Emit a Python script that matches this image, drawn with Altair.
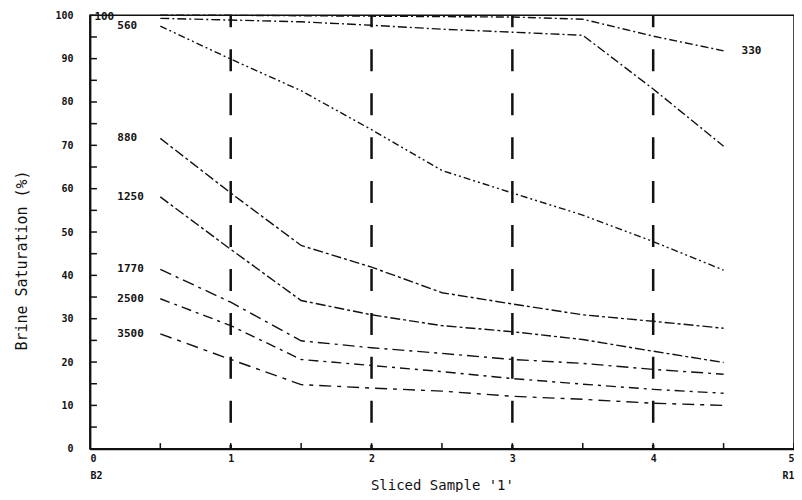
import altair as alt
import pandas as pd

# ---- data ----
x_pos = [0.5, 1.0, 1.5, 2.0, 2.5, 3.0, 3.5, 4.0, 4.5]
series_names = ["100", "330", "560", "880", "1250", "1770", "2500", "3500"]
s100 = [99.3, 98.9, 98.5, 97.7, 96.8, 96.1, 95.4, 83.0, 69.8]
s330 = [100.0, 100.0, 99.9, 99.8, 99.7, 99.6, 99.1, 95.2, 91.8]
s560 = [97.5, 89.9, 82.6, 73.6, 64.2, 59.0, 53.9, 47.8, 41.2]
s880 = [71.6, 59.0, 46.9, 41.9, 36.0, 33.4, 30.9, 29.4, 27.8]
s1250 = [58.1, 46.0, 34.2, 30.9, 28.4, 27.0, 25.2, 22.5, 19.9]
s1770 = [41.4, 33.8, 24.9, 23.3, 22.0, 20.6, 19.7, 18.3, 17.2]
s2500 = [34.6, 28.4, 20.6, 19.2, 17.8, 16.2, 14.9, 13.7, 12.8]
s3500 = [26.5, 20.6, 14.8, 14.0, 13.3, 12.1, 11.4, 10.5, 10.0]
all_series = [s100, s330, s560, s880, s1250, s1770, s2500, s3500]

divider_x = [1, 2, 3, 4]
x_tick_vals = [0.5, 1, 1.5, 2, 2.5, 3, 3.5, 4, 4.5, 5]
y_tick_vals = list(range(0, 101, 5))
x_label_vals = [0, 1, 2, 3, 4, 5]
y_label_vals = list(range(0, 101, 10))
end_left = "B2"
end_right = "R1"

# ---- tables ----
rows = []
for name, vals in zip(series_names, all_series):
    for xv, yv in zip(x_pos, vals):
        rows.append({"series": name, "x": xv, "y": yv})
df = pd.DataFrame(rows)

left_lab = pd.DataFrame(
    [{"series": n, "x": x_pos[0], "y": v[0]} for n, v in zip(series_names, all_series)
     if n not in ("100", "330")]
)
top_lab = pd.DataFrame([{"series": "100", "x": x_pos[0], "y": s100[0]}])
right_lab = pd.DataFrame([{"series": "330", "x": x_pos[-1], "y": s330[-1]}])
div_df = pd.DataFrame({"x": divider_x})
ytick_df = pd.DataFrame({"y": y_tick_vals})
xtick_df = pd.DataFrame({"x": x_tick_vals})

FONT = "DejaVu Sans Mono"
INK = "#111111"

xscale = alt.Scale(domain=[0, 5], nice=False, zero=False)
yscale = alt.Scale(domain=[0, 100], nice=False)

x_axis = alt.Axis(
    values=x_label_vals, format="d",
    labelExpr=f"datum.value == 0 ? ['0', '{end_left}'] : datum.value == 5 ? ['5', '{end_right}'] : datum.label",
    labelFont=FONT, labelFontWeight="bold", labelFontSize=10, labelColor=INK,
    labelLineHeight=17, labelPadding=5, labelFlush=True, labelOverlap=False,
    ticks=False, grid=False, domainColor=INK, domainWidth=2,
    title="Sliced Sample '1'", titleFont=FONT, titleFontSize=14,
    titleFontWeight="normal", titleColor=INK, titleY=30, titleBaseline="top",
)
y_axis = alt.Axis(
    values=y_label_vals, format="d",
    labelFont=FONT, labelFontWeight="bold", labelFontSize=10, labelColor=INK,
    labelPadding=17, ticks=False, grid=False, domainColor=INK, domainWidth=2,
    title="Brine  Saturation   (%)", titleFont=FONT, titleFontSize=15,
    titleFontWeight="normal", titleColor=INK, titleX=-68, titleY=245,
    titleAngle=270, titleAlign="center", titleBaseline="middle",
)

X = lambda f: alt.X(f, scale=xscale, axis=x_axis)
Y = lambda f: alt.Y(f, scale=yscale, axis=y_axis)

dash_range = [[9, 3, 2, 3], [8, 3, 2, 3], [7, 3, 2, 3, 2, 3], [10, 3, 3, 3],
              [10, 3, 3, 3], [12, 5, 3, 5], [10, 5, 3, 5], [12, 6, 4, 6]]

lines = alt.Chart(df).mark_line(color=INK, strokeWidth=1.4).encode(
    x=X("x:Q"),
    y=Y("y:Q"),
    strokeDash=alt.StrokeDash("series:N", scale=alt.Scale(domain=series_names, range=dash_range), legend=None),
    detail="series:N",
)

dividers = alt.Chart(div_df).mark_rule(
    color=INK, strokeWidth=2.5, strokeDash=[22, 22], strokeDashOffset=18
).encode(
    x=X("x:Q"),
    y=alt.datum(0),
    y2=alt.datum(100),
)

yticks = alt.Chart(ytick_df).mark_rule(color=INK, strokeWidth=1.5).encode(
    y=Y("y:Q"),
    x=alt.datum(0),
    x2=alt.datum(0.05),
)
xticks = alt.Chart(xtick_df).mark_rule(color=INK, strokeWidth=1.5).encode(
    x=X("x:Q"),
    y=alt.datum(0),
    y2=alt.datum(1.3),
)

lab_style = dict(font=FONT, fontWeight="bold", fontSize=11, color=INK, align="left", baseline="middle")
left_text = alt.Chart(left_lab).mark_text(dx=-43, **lab_style).encode(
    x=X("x:Q"), y=Y("y:Q"), text="series:N")
top_text = alt.Chart(top_lab).mark_text(dx=-66, dy=-1, **lab_style).encode(
    x=X("x:Q"), y=Y("y:Q"), text="series:N")
right_text = alt.Chart(right_lab).mark_text(dx=18, **lab_style).encode(
    x=X("x:Q"), y=Y("y:Q"), text="series:N")

chart = alt.layer(lines, dividers, yticks, xticks, left_text, top_text, right_text).properties(
    width=705, height=434,
    autosize=alt.AutoSizeParams(type="none"),
    padding={"left": 82, "top": 7, "right": 0, "bottom": 43},
    background="white",
).configure_view(stroke=INK, strokeWidth=1.5)

chart.save("out.html", embed_options={"renderer": "svg", "actions": False})
